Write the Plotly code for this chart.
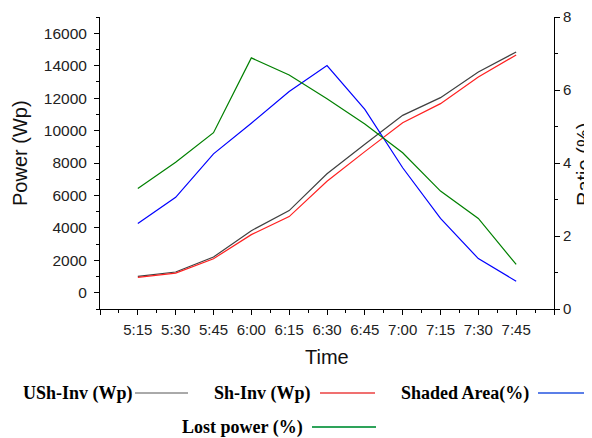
import plotly.graph_objects as go

times = ["5:15", "5:30", "5:45", "6:00", "6:15", "6:30", "6:45", "7:00", "7:15", "7:30", "7:45"]
ush_inv = [1007, 1279, 2205, 3830, 5066, 7333, 9150, 10935, 12028, 13610, 14846]
sh_inv = [945, 1217, 2100, 3583, 4695, 6876, 8700, 10484, 11658, 13301, 14660]
shaded_area = [2.34, 3.06, 4.25, 5.09, 5.96, 6.67, 5.47, 3.87, 2.48, 1.38, 0.76]
lost_power = [3.30, 4.02, 4.83, 6.88, 6.41, 5.76, 5.07, 4.28, 3.23, 2.48, 1.22]

xpos = list(range(1, len(times) + 1))

# page has an 8px body margin, so the figure is drawn 8px in from the corner
OFF = 8
W, H = 592 - OFF, 438 - OFF
# plot area in screen pixels: x 100..554, y 17..309
SX0, SX1, SY0, SY1 = 100, 554, 17, 309
L, T = SX0 - OFF, SY0 - OFF
R = 592 - SX1
B = H - (SY1 - OFF)
pw, ph = SX1 - SX0, SY1 - SY0


def px(x):
    return (x - SX0) / pw


def py(y):
    return (SY1 - y) / ph


fig = go.Figure()
fig.add_trace(go.Scatter(x=xpos, y=ush_inv, mode="lines", line=dict(color="#404040", width=1.2),
                         name="USh-Inv (Wp)", showlegend=False))
fig.add_trace(go.Scatter(x=xpos, y=sh_inv, mode="lines", line=dict(color="#ff2020", width=1.2),
                         name="Sh-Inv (Wp)", showlegend=False))
fig.add_trace(go.Scatter(x=xpos, y=shaded_area, mode="lines", line=dict(color="#0000ff", width=1.2),
                         name="Shaded Area(%)", yaxis="y2", showlegend=False))
fig.add_trace(go.Scatter(x=xpos, y=lost_power, mode="lines", line=dict(color="#008000", width=1.2),
                         name="Lost power (%)", yaxis="y2", showlegend=False))

tickfont = dict(family="Liberation Sans, Arial", size=15, color="#222")
ytickfont = dict(family="Liberation Sans, Arial", size=15.5, color="#222")
titlefont = dict(family="Liberation Sans, Arial", size=20, color="#111")

fig.update_layout(
    width=W, height=H,
    margin=dict(l=L, r=R, t=T, b=B, autoexpand=False),
    paper_bgcolor="white", plot_bgcolor="white",
    showlegend=False,
    xaxis=dict(
        range=[0, len(times) + 1],
        tickmode="array",
        tickvals=[0] + xpos + [len(times) + 1],
        ticktext=[""] + times + [""],
        ticks="outside", ticklen=5, tickwidth=1, tickcolor="black",
        minor=dict(tickvals=[i + 0.5 for i in range(len(times) + 1)], ticks="outside",
                   ticklen=3, tickwidth=1, tickcolor="black"),
        showline=True, linecolor="black", linewidth=1, mirror=False,
        showgrid=False, zeroline=False, automargin=False,
        tickfont=tickfont, ticklabelstandoff=2,
    ),
    yaxis=dict(
        range=[-1000, 17000],
        tick0=0, dtick=2000, tickformat="d",
        ticks="outside", ticklen=5, tickwidth=1, tickcolor="black",
        minor=dict(tick0=0, dtick=1000, ticks="outside", ticklen=3, tickwidth=1, tickcolor="black"),
        showline=True, linecolor="black", linewidth=1,
        showgrid=False, zeroline=False, automargin=False,
        tickfont=ytickfont, ticklabelstandoff=4,
    ),
    yaxis2=dict(
        overlaying="y", side="right",
        range=[0, 8],
        tick0=0, dtick=2,
        ticks="outside", ticklen=5, tickwidth=1, tickcolor="black",
        minor=dict(tick0=0, dtick=1, ticks="outside", ticklen=3, tickwidth=1, tickcolor="black"),
        showline=True, linecolor="black", linewidth=1,
        showgrid=False, zeroline=False, automargin=False,
        tickfont=tickfont,
    ),
)

# axis titles
fig.add_annotation(xref="paper", yref="paper", x=px(327), y=py(357), text="Time",
                   showarrow=False, xanchor="center", yanchor="middle", font=titlefont)
fig.add_annotation(xref="paper", yref="paper", x=px(20), y=py(153), text="Power (Wp)",
                   textangle=-90, showarrow=False, xanchor="center", yanchor="middle", font=titlefont)
fig.add_annotation(xref="paper", yref="paper", x=px(584), y=py(165), text="Ratio (%)",
                   textangle=-90, showarrow=False, xanchor="center", yanchor="middle", font=titlefont)

# custom legend: text followed by a line sample
legfont = dict(family="Liberation Serif, Times New Roman", size=18, color="black")
legend_items = [
    ("<b>USh-Inv (Wp)</b>", 135, 188, 393, "#555555", 1),
    ("<b>Sh-Inv (Wp)</b>", 313, 375, 393, "#f07070", 2),
    ("<b>Shaded Area(%)</b>", 531, 600, 393, "#5b7fe8", 2),
    ("<b>Lost power (%)</b>", 305, 376, 427, "#2ea35a", 2),
]
for text, xe, x1, yc, col, lw in legend_items:
    fig.add_annotation(xref="paper", yref="paper", x=px(xe), y=py(yc), text=text,
                       showarrow=False, xanchor="right", yanchor="middle", font=legfont)
    x0 = xe + (0 if lw == 1 else 7)
    fig.add_shape(type="line", xref="paper", yref="paper", x0=px(x0), x1=px(x1),
                  y0=py(yc), y1=py(yc), line=dict(color=col, width=lw))

fig.write_html("out.html")
